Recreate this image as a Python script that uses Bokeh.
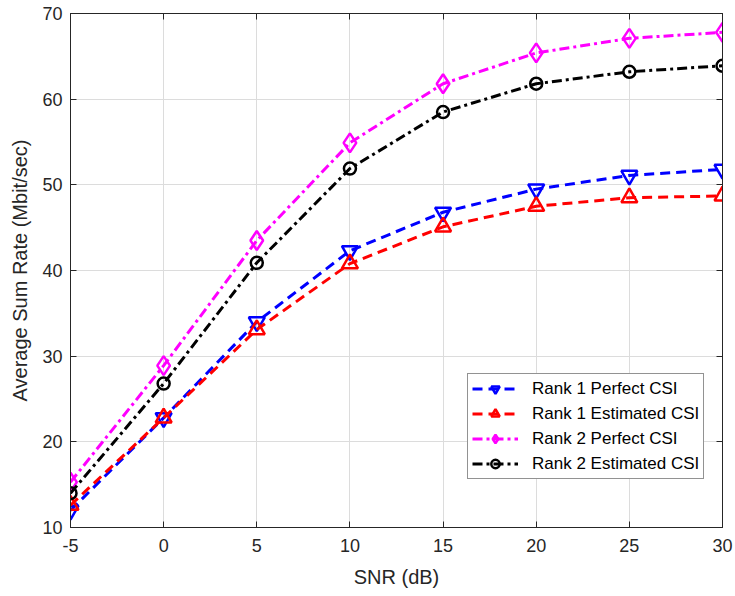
from bokeh.plotting import figure
from bokeh.models import LinearAxis, Legend, LegendItem, FixedTicker, Range1d
from bokeh.embed import file_html
from bokeh.resources import INLINE

# SNR sweep (dB) and average sum rate (Mbit/sec) per scheme
snr = [-5, 0, 5, 10, 15, 20, 25, 30]
rank1_perfect = [12.0, 22.8, 34.0, 42.3, 46.8, 49.5, 51.1, 51.8]
rank1_estimated = [12.6, 22.8, 33.1, 40.8, 45.1, 47.5, 48.5, 48.7]
rank2_perfect = [15.3, 28.9, 43.5, 54.9, 61.8, 65.4, 67.1, 67.8]
rank2_estimated = [14.0, 26.8, 40.9, 51.9, 58.5, 61.8, 63.2, 63.9]

labels = ["Rank 1 Perfect CSI", "Rank 1 Estimated CSI",
          "Rank 2 Perfect CSI", "Rank 2 Estimated CSI"]
x_ticks = [-5, 0, 5, 10, 15, 20, 25, 30]
y_ticks = [10, 20, 30, 40, 50, 60, 70]

FONT = "Liberation Sans"
AX = "#262626"

p = figure(width=735, height=596, output_backend="svg", toolbar_location=None,
           x_range=Range1d(-5, 30), y_range=Range1d(10, 70),
           min_border_left=70, min_border_right=13,
           min_border_top=13, min_border_bottom=69)
p.background_fill_color = "white"
p.border_fill_color = "white"
p.outline_line_color = AX
p.outline_line_width = 1

for ax in (p.xaxis[0], p.yaxis[0]):
    ax.axis_line_color = AX
    ax.major_tick_line_color = AX
    ax.major_tick_in = 6
    ax.major_tick_out = 0
    ax.minor_tick_line_color = None
    ax.major_label_text_font = FONT
    ax.major_label_text_font_size = "18px"
    ax.major_label_text_color = AX
    ax.axis_label_text_font = FONT
    ax.axis_label_text_font_size = "20px"
    ax.axis_label_text_color = AX
    ax.axis_label_text_font_style = "normal"

p.xaxis[0].ticker = FixedTicker(ticks=x_ticks)
p.yaxis[0].ticker = FixedTicker(ticks=y_ticks)
p.xaxis[0].major_label_overrides = {-5: "-5"}
p.xaxis[0].axis_label = "SNR (dB)"
p.yaxis[0].axis_label = "Average Sum Rate (Mbit/sec)"
p.xaxis[0].major_label_standoff = 11
p.yaxis[0].major_label_standoff = 8
p.xaxis[0].axis_label_standoff = 11
p.yaxis[0].axis_label_standoff = 8

# Mirror ticks on the top and right edges of the box (no labels drawn)
for loc, ticks in (("above", x_ticks), ("right", y_ticks)):
    a = LinearAxis(ticker=FixedTicker(ticks=ticks))
    a.axis_line_color = AX
    a.major_tick_line_color = AX
    a.major_tick_in = 6
    a.major_tick_out = 0
    a.minor_tick_line_color = None
    a.major_label_text_color = None
    a.major_label_text_font_size = "1px"
    a.major_label_standoff = 0
    p.add_layout(a, loc)

p.xgrid.ticker = FixedTicker(ticks=x_ticks)
p.ygrid.ticker = FixedTicker(ticks=y_ticks)
p.grid.grid_line_color = "#dcdcdc"
p.grid.grid_line_width = 1

series = [
    (rank1_perfect, "#0000ff", "10 6", "inverted_triangle", 16),
    (rank1_estimated, "#ff0000", "10 6", "triangle", 16),
    (rank2_perfect, "#ff00ff", "10 4 3 4", "diamond", 19),
    (rank2_estimated, "#000000", "10 4 3 4", "circle", 12),
]

items = []
for (vals, color, dash, marker, size), lab in zip(series, labels):
    ln = p.line(snr, vals, line_color=color, line_width=3, line_dash=dash)
    mk = p.scatter(snr, vals, marker=marker, size=size, line_color=color,
                   line_width=2.5, fill_color=None)
    items.append(LegendItem(label=lab, renderers=[ln, mk]))

legend = Legend(items=items, location=(397, 48))
legend.label_text_font = FONT
legend.label_text_font_size = "17px"
legend.label_text_color = "#000000"
legend.glyph_width = 46
legend.glyph_height = 21
legend.label_height = 21
legend.spacing = 4
legend.padding = 4
legend.margin = 0
legend.label_standoff = 14
legend.border_line_color = AX
legend.border_line_width = 1
legend.background_fill_alpha = 1
p.add_layout(legend, "center")

open("out.html", "w").write(file_html(p, INLINE))
